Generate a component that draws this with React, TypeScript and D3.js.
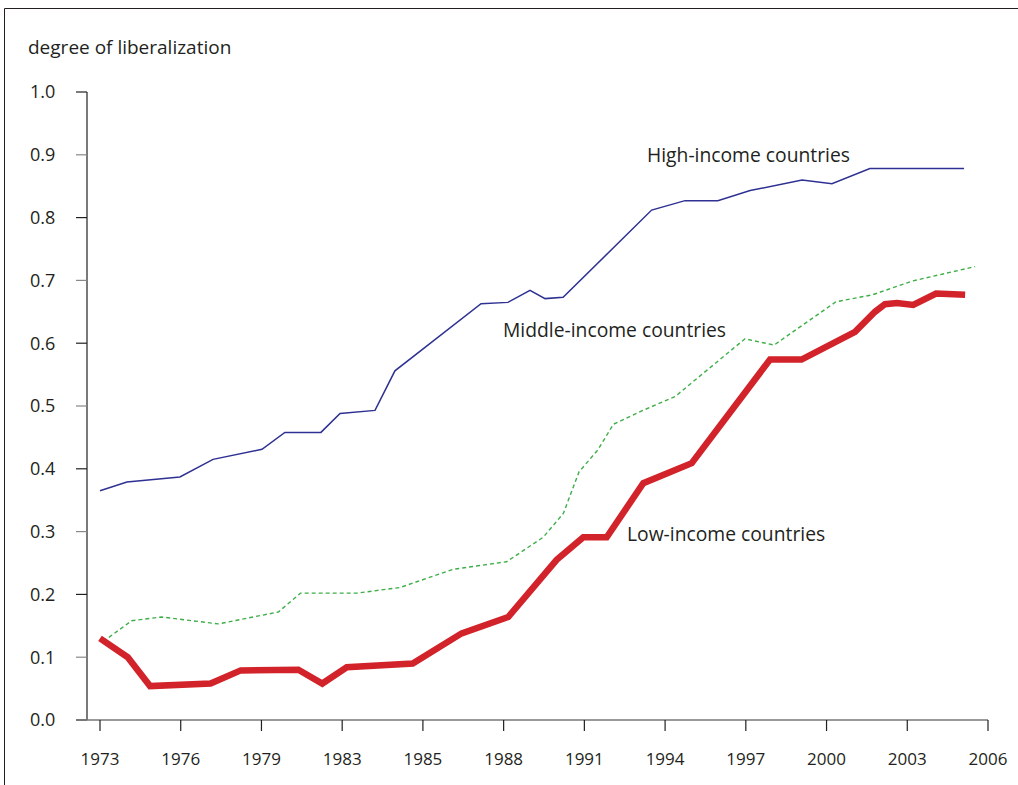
import React from "react";
import * as d3 from "d3";

// ---- data ----
const highYears = [1973, 1974.0, 1975.97, 1977.2, 1979.02, 1979.87, 1981.21, 1981.92, 1983.22, 1983.96, 1987.16, 1988.16, 1988.98, 1989.54, 1990.21, 1993.5, 1994.74, 1995.96, 1997.16, 1999.09, 2000.2, 2001.61, 2005.11];
const highValues = [0.365, 0.379, 0.387, 0.415, 0.431, 0.458, 0.458, 0.488, 0.493, 0.556, 0.663, 0.665, 0.684, 0.671, 0.673, 0.812, 0.827, 0.827, 0.843, 0.86, 0.854, 0.878, 0.878];

const middleYears = [1973.12, 1974.17, 1975.29, 1977.4, 1979.63, 1980.45, 1982.54, 1984.15, 1986.13, 1988.11, 1989.47, 1990.22, 1990.8, 1991.5, 1992.08, 1993.07, 1994.37, 1996.97, 1998.05, 2000.35, 2001.7, 2003.19, 2005.52];
const middleValues = [0.125, 0.158, 0.164, 0.153, 0.172, 0.202, 0.202, 0.211, 0.24, 0.252, 0.291, 0.329, 0.395, 0.43, 0.471, 0.491, 0.515, 0.607, 0.597, 0.666, 0.677, 0.699, 0.722];

const lowYears = [1973, 1974.03, 1974.86, 1977.11, 1978.23, 1980.37, 1981.26, 1982.17, 1984.62, 1986.44, 1988.17, 1989.97, 1990.96, 1991.83, 1993.19, 1994.99, 1997.9, 1999.07, 2001.06, 2001.8, 2002.17, 2002.62, 2003.22, 2004.07, 2005.15];
const lowValues = [0.13, 0.1, 0.054, 0.058, 0.079, 0.08, 0.058, 0.084, 0.09, 0.138, 0.164, 0.255, 0.291, 0.291, 0.377, 0.409, 0.574, 0.574, 0.618, 0.65, 0.662, 0.664, 0.661, 0.679, 0.677];

const xTickPositions = [1973, 1976, 1979, 1982, 1985, 1988, 1991, 1994, 1997, 2000, 2003, 2006];
const xTickLabels = ["1973", "1976", "1979", "1983", "1985", "1988", "1991", "1994", "1997", "2000", "2003", "2006"];
const yTicks = [0, 0.1, 0.2, 0.3, 0.4, 0.5, 0.6, 0.7, 0.8, 0.9, 1.0];

const seriesLabels = ["High-income countries", "Middle-income countries", "Low-income countries"];
const yTitle = "degree of liberalization";

const FONT = "'Open Sans', 'Noto Sans', sans-serif";
const INK = "#231f20";

export default function App() {
  const W = 1018, H = 785;
  const x = d3.scaleLinear().domain([1973, 2006]).range([100, 988]);
  const y = d3.scaleLinear().domain([0, 1]).range([720, 92]);
  const line = d3.line<[number, number]>().x(d => x(d[0])).y(d => y(d[1]));
  const zip = (a: number[], b: number[]) => a.map((v, i) => [v, b[i]] as [number, number]);

  const high = line(zip(highYears, highValues)) || "";
  const mid = line(zip(middleYears, middleValues)) || "";
  const low = line(zip(lowYears, lowValues)) || "";

  return (
    <div style={{ position: "absolute", left: 0, top: 0 }}>
      <svg width={W} height={H} style={{ display: "block" }} fontFamily={FONT}>
        <rect width={W} height={H} fill="#fff" />
        {/* frame */}
        <line x1={4.5} y1={8.5} x2={W} y2={8.5} stroke={INK} strokeWidth={1} />
        <line x1={4.5} y1={8.5} x2={4.5} y2={H} stroke={INK} strokeWidth={1} />

        <text x={28} y={54} fontSize={19} fill={INK}>{yTitle}</text>

        {/* y axis */}
        <line x1={87} y1={y(1)} x2={87} y2={y(0)} stroke={INK} strokeWidth={1.2} />
        {yTicks.map((t, i) => (
          <g key={i}>
            <line x1={76} x2={87} y1={y(t)} y2={y(t)} stroke={i % 2 === 0 ? INK : "#888"} strokeWidth={1.2} />
            <text x={30} y={y(t)} dy="0.35em" textAnchor="start" fontSize={18} fill={INK}>{t.toFixed(1)}</text>
          </g>
        ))}

        {/* x axis */}
        <line x1={77} x2={x(2006)} y1={y(0)} y2={y(0)} stroke="#777" strokeWidth={1.5} />
        {xTickPositions.map((t, i) => (
          <g key={i}>
            <line x1={x(t)} x2={x(t)} y1={y(0)} y2={y(0) + 11} stroke={INK} strokeWidth={1.2} />
            <text x={x(t)} y={765} textAnchor="middle" fontSize={17} fill={INK}>{xTickLabels[i]}</text>
          </g>
        ))}

        {/* series */}
        <path d={mid} fill="none" stroke="#3fae49" strokeWidth={1.4} strokeDasharray="4,3" />
        <path d={high} fill="none" stroke="#2e3192" strokeWidth={1.5} />
        <path d={low} fill="none" stroke="#d2232a" strokeWidth={6.5} strokeLinejoin="miter" />

        {/* labels */}
        <text x={647} y={162} fontSize={19.3} fill={INK}>{seriesLabels[0]}</text>
        <text x={503} y={337} fontSize={19.3} fill={INK}>{seriesLabels[1]}</text>
        <text x={627} y={541} fontSize={19.3} fill={INK}>{seriesLabels[2]}</text>
      </svg>
    </div>
  );
}
